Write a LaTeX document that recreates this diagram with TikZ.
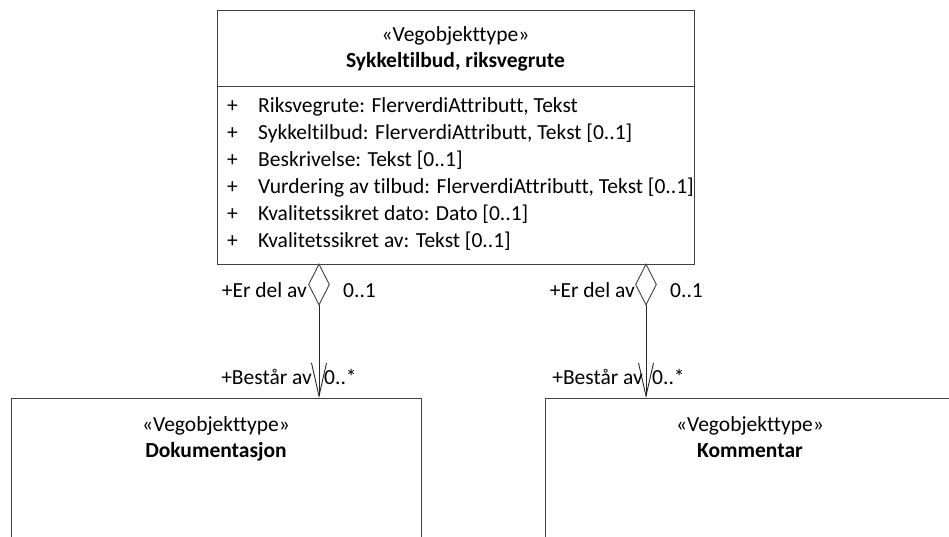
\documentclass[tikz,border=0pt]{standalone}
\usepackage{fontspec}
\setmainfont{Carlito}[Ligatures=NoCommon]
\usetikzlibrary{shapes.geometric,arrows.meta}
\begin{document}
\begin{tikzpicture}[x=1pt,y=-1pt,
  box/.style={draw=black!75,line width=0.9pt,fill=white,inner sep=0pt,anchor=north west},
  txt/.style={inner sep=0pt,font=\fontsize{21.5}{24}\selectfont},
  agg/.style={shape=diamond,draw=black!75,line width=0.9pt,fill=white,inner sep=0pt,minimum width=21pt,minimum height=41pt},
  assoc/.style={line width=0.9pt,draw=black!85,-{Straight Barb[length=33pt,width=15pt,line width=0.9pt]}},
  lbl/.style={txt,anchor=base}]
\useasboundingbox (0,0) rectangle (949,537);
\begin{scope}
\clip (0,0) rectangle (949,537);
% top class
\node[box,minimum width=477pt,minimum height=254pt] (top) at (217,10) {};
\draw[draw=black!75,line width=0.9pt] (217,86) coordinate (sepL) -- (694,86) coordinate (sepR);
\node[txt,anchor=base] (st) at (455.5,42) {«Vegobjekttype»};
\node[txt,anchor=base] (nm) at (455.5,68) {\bfseries Sykkeltilbud, riksvegrute};
\foreach \i/\t in {0/{Riksvegrute: FlerverdiAttributt, Tekst},
                   1/{Sykkeltilbud: FlerverdiAttributt, Tekst [0..1]},
                   2/{Beskrivelse: Tekst [0..1]},
                   3/{Vurdering av tilbud: FlerverdiAttributt, Tekst [0..1]},
                   4/{Kvalitetssikret dato: Dato [0..1]},
                   5/{Kvalitetssikret av: Tekst [0..1]}}{
  \node[txt,anchor=base west] (p\i) at (227,113+26.9*\i) {+};
  \node[txt,anchor=base west] (a\i) at (258,113+26.9*\i) {\t};
}
% bottom classes
\node[box,minimum width=410pt,minimum height=160pt] (doc) at (11,398) {};
\node[txt,anchor=base] (docst) at (216,431) {«Vegobjekttype»};
\node[txt,anchor=base] (docnm) at (216,457) {\bfseries Dokumentasjon};
\node[box,minimum width=410pt,minimum height=160pt] (kom) at (545,398) {};
\node[txt,anchor=base] (komst) at (750,431) {«Vegobjekttype»};
\node[txt,anchor=base] (komnm) at (750,457) {\bfseries Kommentar};
\end{scope}
% aggregations
\node[agg] (d1) at (319,284.5) {};
\node[agg] (d2) at (646,284.5) {};
\draw[assoc] (d1.south) -- (d1.south |- doc.north);
\draw[assoc] (d2.south) -- (d2.south |- kom.north);
% labels
\node[txt,anchor=base east] (l1) at (307,297) {+Er del av};
\node[txt,anchor=base west] (m1) at (343,297) {0..1};
\node[txt,anchor=base east] (l2) at (312,384) {+Består av};
\node[txt,anchor=base west] (m2) at (324,384) {0..*};
\node[txt,anchor=base east] (l3) at (635,297) {+Er del av};
\node[txt,anchor=base west] (m3) at (670,297) {0..1};
\node[txt,anchor=base east] (l4) at (643,384) {+Består av};
\node[txt,anchor=base west] (m4) at (652,384) {0..*};
\end{tikzpicture}
\end{document}
